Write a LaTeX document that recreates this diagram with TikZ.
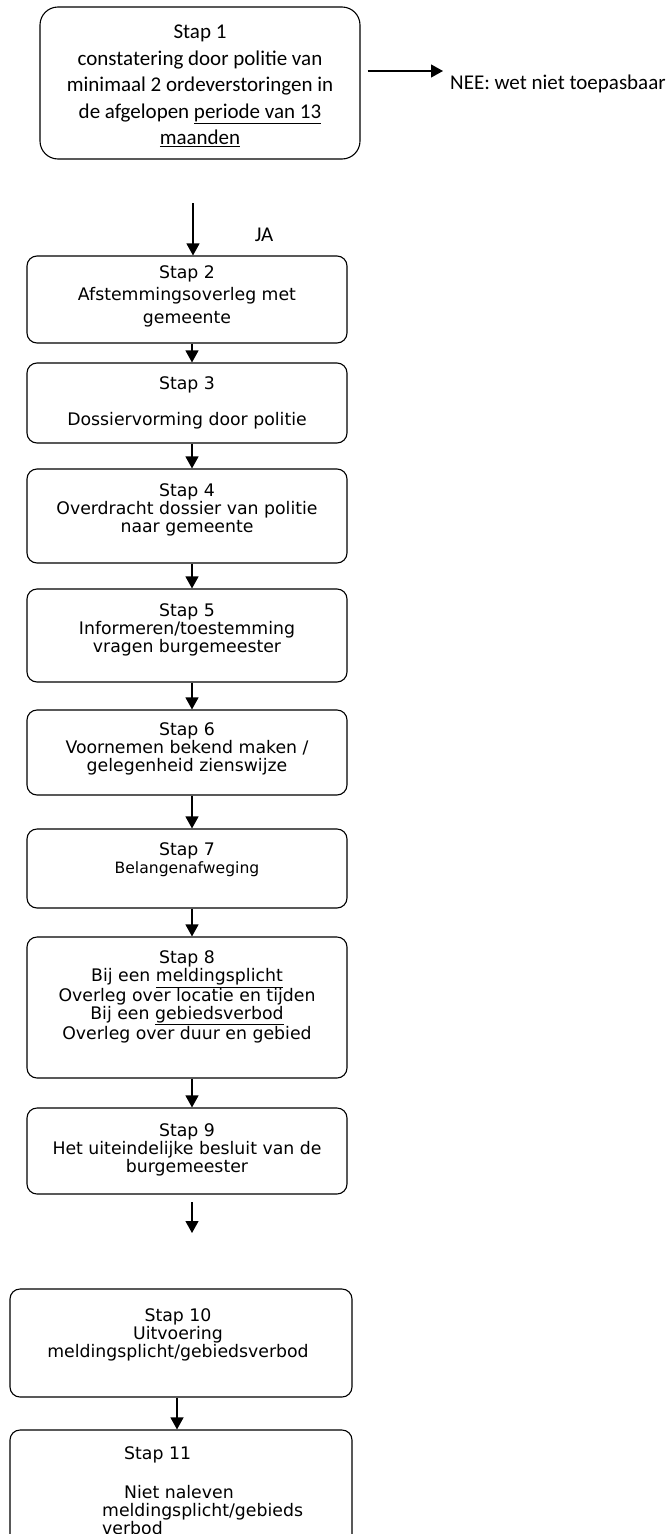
\documentclass[tikz,border=0pt]{standalone}
\usepackage{fontspec}
\setmainfont{DejaVu Sans}
\newfontfamily\calfont{Carlito}
\usetikzlibrary{arrows.meta}

\begin{document}
\begin{tikzpicture}[x=1pt, y=-1pt,
        stapbox/.style={draw, line width=1.1pt, rounded corners=10pt, minimum width=320pt, inner sep=0pt},
        staptext/.style={align=center, inner sep=0pt, font=\fontsize{17.3}{18}\selectfont},
        caltext/.style={inner sep=0pt, font=\calfont\fontsize{21}{26.5}\selectfont},
        pijl/.style={-{Triangle[width=13pt,length=12pt]}, line width=1.2pt}]
                    \useasboundingbox (0,0) rectangle (667,1534);

                    \node[stapbox, rounded corners=18pt, minimum height=152pt] (s1) at (200,83) {};
                    \node[stapbox, minimum height=87pt] (s2) at (187,299.5) {};
                    \node[stapbox, minimum height=80pt] (s3) at (187,403) {};
                    \node[stapbox, minimum height=94pt] (s4) at (187,516) {};
                    \node[stapbox, minimum height=93pt] (s5) at (187,635.5) {};
                    \node[stapbox, minimum height=85pt] (s6) at (187,752.5) {};
                    \node[stapbox, minimum height=79pt] (s7) at (187,868.5) {};
                    \node[stapbox, minimum height=141pt] (s8) at (187,1007.5) {};
                    \node[stapbox, minimum height=86pt] (s9) at (187,1151) {};
                    \node[stapbox, minimum width=342pt, minimum height=108pt] (s10) at (181,1343) {};
                    \node[stapbox, minimum width=342pt, minimum height=120pt] (s11) at (181,1490) {};

                    \node[caltext, align=center] (t1) at (200,86) {Stap 1\\constatering door politie van\\minimaal 2 ordeverstoringen in\\de afgelopen \underline{periode van 13}\\\underline{maanden}};
                    \node[caltext, anchor=west] (nee) at (450,84) {NEE: wet niet toepasbaar};
                    \node[caltext] (ja) at (264,235) {JA};

                    \node[staptext, font=\fontsize{17.3}{22.5}\selectfont] (t2) at (187,296) {Stap 2\\Afstemmingsoverleg met\\gemeente};
                    \node[staptext] (t3) at (187,402.5) {Stap 3\\[18pt]Dossiervorming door politie};
                    \node[staptext] (t4) at (187,510) {Stap 4\\Overdracht dossier van politie\\naar gemeente};
                    \node[staptext] (t5) at (187,630) {Stap 5\\Informeren/toestemming\\vragen burgemeester};
                    \node[staptext] (t6) at (187,749) {Stap 6\\Voornemen bekend maken /\\gelegenheid zienswijze};
                    \node[staptext] (t7) at (187,860) {Stap 7\\{\fontsize{15.6}{18}\selectfont Belangenafweging}};
                    \node[staptext] (t8) at (187,997) {Stap 8\\Bij een \underline{meldingsplicht}\\Overleg over locatie en tijden\\Bij een \underline{gebiedsverbod}\\Overleg over duur en gebied};
                    \node[staptext] (t9) at (187,1149.5) {Stap 9\\Het uiteindelijke besluit van de\\burgemeester};
                    \node[staptext] (t10) at (178,1335) {Stap 10\\Uitvoering\\meldingsplicht/gebiedsverbod};
                    \node[staptext, align=left, anchor=north west] (t11) at (102,1446) {\hspace{22pt}Stap 11\\[21pt]\hspace{22pt}Niet naleven\\meldingsplicht/gebieds\\verbod};

                    \coordinate (neepunt) at (443,71);
                    \coordinate (ja0) at (193,203);
                    \coordinate (v9a) at (192,1202);
                    \coordinate (v9b) at (192,1233);

                    \draw[pijl] ([xshift=7pt]s1.east |- neepunt) -- (neepunt);
                    \draw[pijl] (ja0) -- (ja0 |- s2.north);
                    \foreach \a/\b in {s2/s3, s3/s4, s4/s5, s5/s6, s6/s7, s7/s8, s8/s9}
                        \draw[pijl] ([xshift=5pt]\a.south) -- ([xshift=5pt]\b.north);
                    \draw[pijl] (v9a) -- (v9b);
                    \draw[pijl] ([xshift=-4pt]s10.south) -- ([xshift=-4pt]s11.north);

                \end{tikzpicture}
\end{document}
